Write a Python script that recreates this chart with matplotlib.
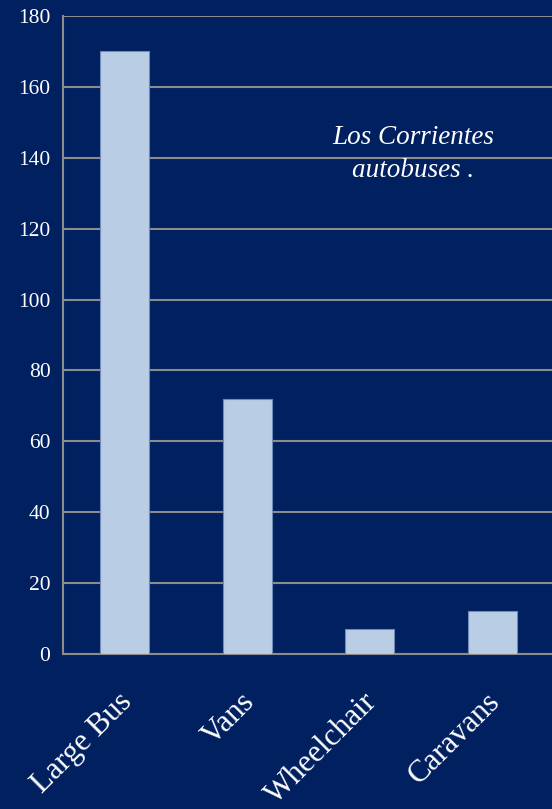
import matplotlib
matplotlib.use("Agg")
import matplotlib.pyplot as plt

categories = ["Large Bus", "Vans", "Wheelchair", "Caravans"]
values = [170, 72, 7, 12]
yticks = [0, 20, 40, 60, 80, 100, 120, 140, 160, 180]

bg = "#00205F"
plt.rcParams["font.family"] = ["Liberation Serif", "DejaVu Serif"]

fig = plt.figure(figsize=(5.52, 8.09), dpi=100, facecolor=bg)
ax = fig.add_axes([63/552, 1-654/809, 491/552, (654-16)/809])
ax.set_facecolor(bg)

x = list(range(len(categories)))
ax.bar(x, values, width=0.4, color="#B9CDE5", edgecolor="#6E8BB8", linewidth=0.8, zorder=3)

ax.set_xlim(-0.5, len(categories) - 0.5)
ax.set_ylim(0, 180)
ax.set_yticks(yticks)
ax.set_yticklabels([str(v) for v in yticks], color="white", fontsize=15.5)
ax.yaxis.grid(True, color="#8C8C8C", linewidth=1.5, zorder=0)
ax.set_axisbelow(True)
ax.tick_params(axis="y", length=0, pad=9)
ax.tick_params(axis="x", length=0, pad=0)

ax.set_xticks(x)
ax.set_xticklabels([])
for xi, lab in zip(x, categories):
    ax.annotate(lab, xy=(xi, 0), xycoords=("data", "axes fraction"),
                xytext=(-7, -33), textcoords="offset pixels",
                rotation=45, ha="right", va="top", rotation_mode="anchor",
                color="white", fontsize=22.5, annotation_clip=False)

for side in ["top", "right"]:
    ax.spines[side].set_visible(False)
ax.spines["left"].set_color("#8C8C8C")
ax.spines["left"].set_linewidth(1.5)
ax.spines["bottom"].set_color("#8C8C8C")
ax.spines["bottom"].set_linewidth(1.5)

fig.text(413/552, 1-154/809, "Los Corrientes\nautobuses .", ha="center", va="center",
         color="white", fontsize=19.5, style="italic", linespacing=1.45)

fig.savefig("out.png", dpi=100, facecolor=bg)
